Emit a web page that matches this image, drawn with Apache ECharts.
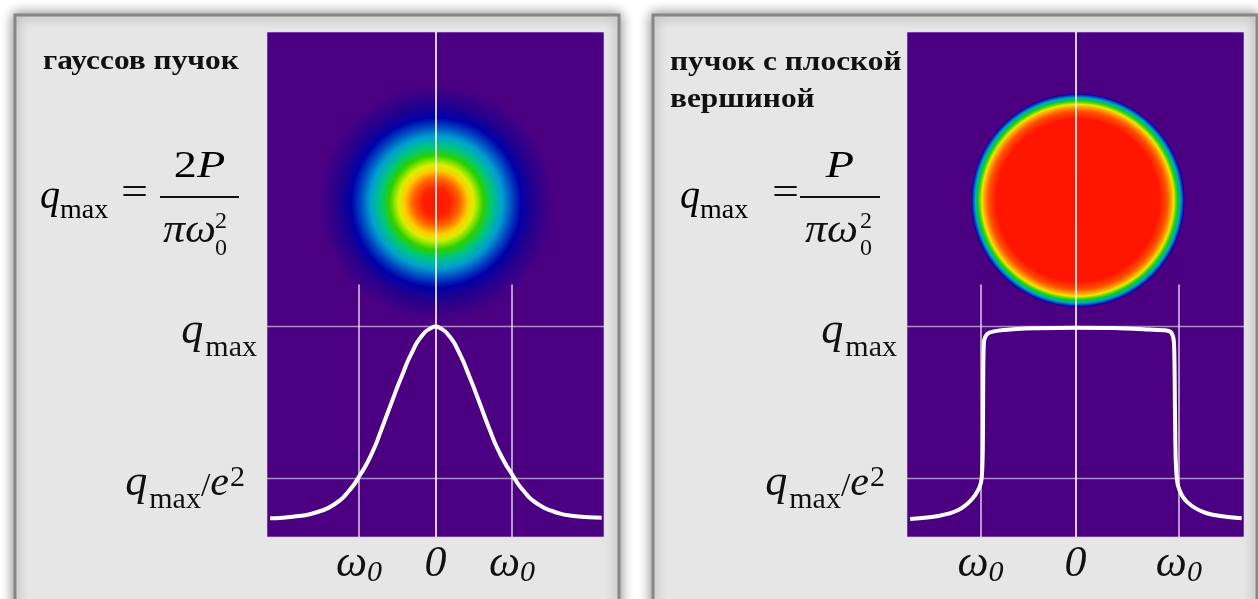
<!DOCTYPE html>
<html>
<head>
<meta charset="utf-8">
<script src="https://cdn.jsdelivr.net/npm/echarts@6/dist/echarts.min.js"></script>
<style>
  html, body { margin: 0; padding: 0; background: #ffffff; }
  #chart { width: 1258px; height: 599px; }
</style>
</head>
<body>
<div id="chart"></div>
<script>
// ---- Profile of a Gaussian beam (x in waist units, y relative to q_max) ----
const gaussX = [-2.16, -1.79, -1.53, -1.31, -1.14, -0.99, -0.83, -0.70, -0.57, -0.44, -0.31, -0.18, -0.05, 0,
                0.05, 0.18, 0.31, 0.44, 0.57, 0.70, 0.84, 1.01, 1.16, 1.33, 1.55, 1.80, 2.17];
const gaussY = [0.089, 0.100, 0.120, 0.158, 0.215, 0.292, 0.398, 0.517, 0.643, 0.765, 0.875, 0.955, 0.995, 1.0,
                0.995, 0.955, 0.875, 0.765, 0.643, 0.517, 0.398, 0.292, 0.215, 0.158, 0.120, 0.100, 0.092];

// ---- Profile of a flat-top beam ----
const flatX = [-2.16, -1.79, -1.53, -1.36, -1.26, -1.225, -1.21, -1.205, -1.195, -1.14, -0.92, -0.49, 0,
               0.50, 0.95, 1.19, 1.256, 1.286, 1.299, 1.312, 1.342, 1.452, 1.713, 2.17];
const flatY = [0.086, 0.100, 0.128, 0.176, 0.231, 0.279, 0.422, 0.738, 0.928, 0.968, 0.984, 0.992, 0.995,
               0.993, 0.986, 0.981, 0.968, 0.921, 0.589, 0.334, 0.239, 0.168, 0.113, 0.089];

// Beam radius marks (-ω0, 0, ω0) on each plot
const gaussWaist = [-1, 0, 1];
const flatWaist = [-1.24, 0, 1.35];

// Intensity levels: q_max and q_max / e^2
const levels = [1, 0.28];

// Beam spots: [centre x, centre y, outer radius]
const gaussSpot = [[0.01, 1.59, 1.54]];
const flatSpot = [[0.03, 1.60, 1.40]];

// Radial positions (fraction of the outer radius) of the colour rings
const gaussRings = [0, 0.12, 0.20, 0.27, 0.32, 0.40, 0.47, 0.56, 0.65, 0.72, 0.82, 1];
const flatRings = [0, 0.76, 0.83, 0.87, 0.895, 0.915, 0.935, 0.955, 0.975, 0.99, 1];

// Texts
const titleGauss = 'гауссов пучок';
const titleFlat = ['пучок с плоской', 'вершиной'];

// ---- Styles ----
const SERIF = '"Liberation Serif", "Times New Roman", serif';
const BG = '#4b0082';
const gaussPalette = ['#ff1400', '#ff2200', '#ff6400', '#ffcc00', '#d8f000', '#2cd000', '#00c878',
                      '#00a0d0', '#0040c0', '#0000a8', '#22008e', BG];
const flatPalette = ['#ff1400', '#ff1600', '#ff5000', '#ffa000', '#f0e800', '#60d800', '#00c840',
                     '#00b0b0', '#0050d0', '#1400a0', BG];

function spotSeries(data, rings, palette, axisIdx) {
  return {
    type: 'custom',
    xAxisIndex: axisIdx,
    yAxisIndex: axisIdx,
    z: 2,
    silent: true,
    data: data,
    renderItem: function (params, api) {
      const c = api.coord([api.value(0), api.value(1)]);
      const r = api.size([api.value(2), 0])[0];
      return {
        type: 'circle',
        shape: { cx: c[0], cy: c[1], r: r },
        style: {
          fill: {
            type: 'radial', x: 0.5, y: 0.5, r: 0.5,
            colorStops: rings.map(function (p, i) { return { offset: p, color: palette[i] }; })
          }
        }
      };
    }
  };
}

function guideSeries(waist, axisIdx) {
  const soft = { color: 'rgba(255,255,255,0.55)', width: 1.3, type: 'solid' };
  const mid = { color: 'rgba(255,255,255,0.8)', width: 1.5, type: 'solid' };
  const strong = { color: '#ffffff', width: 1.6, type: 'solid' };
  const data = [];
  waist.forEach(function (w) {
    if (w === 0) {
      data.push([{ coord: [0, 0], lineStyle: strong }, { coord: [0, 2.4] }]);
    } else {
      data.push([{ coord: [w, 0], lineStyle: mid }, { coord: [w, 1.2] }]);
    }
  });
  levels.forEach(function (l) { data.push({ yAxis: l, lineStyle: soft }); });
  return {
    type: 'line',
    xAxisIndex: axisIdx,
    yAxisIndex: axisIdx,
    z: 3,
    data: [],
    markLine: { silent: true, symbol: 'none', label: { show: false }, animation: false, data: data }
  };
}

function curveSeries(xs, ys, axisIdx, smooth) {
  return {
    type: 'line',
    xAxisIndex: axisIdx,
    yAxisIndex: axisIdx,
    z: 4,
    silent: true,
    showSymbol: false,
    symbol: 'none',
    smooth: smooth,
    lineStyle: { color: '#ffffff', width: 4 },
    data: xs.map(function (x, i) { return [x, ys[i]]; })
  };
}

const richMath = {
  q: { fontFamily: SERIF, fontStyle: 'italic', fontSize: 44, color: '#111', verticalAlign: 'bottom', padding: [0, 2, 10, 0] },
  m: { fontFamily: SERIF, fontSize: 30, color: '#111', verticalAlign: 'bottom' },
  sl: { fontFamily: SERIF, fontSize: 34, color: '#111', verticalAlign: 'bottom', padding: [0, 0, 11, 0] },
  e: { fontFamily: SERIF, fontStyle: 'italic', fontSize: 42, color: '#111', verticalAlign: 'bottom', padding: [0, 0, 10, 0] },
  sup: { fontFamily: SERIF, fontSize: 30, color: '#111', verticalAlign: 'bottom', padding: [0, 12, 22, 1] },
  w: { fontFamily: SERIF, fontStyle: 'italic', fontSize: 44, color: '#111', verticalAlign: 'bottom', padding: [0, 0, 2, 0] },
  s: { fontFamily: SERIF, fontStyle: 'italic', fontSize: 30, color: '#111', verticalAlign: 'bottom' },
  n: { fontFamily: SERIF, fontStyle: 'italic', fontSize: 44, color: '#111', verticalAlign: 'bottom', padding: [0, 0, 2, 0] }
};

function xAxisFor(waist, idx) {
  return {
    type: 'value', gridIndex: idx, min: -2.2, max: 2.2, z: 5,
    axisLine: { show: false }, axisTick: { show: false }, splitLine: { show: false },
    axisLabel: {
      customValues: waist,
      margin: 5,
      formatter: function (v) { return v === 0 ? '{n|0}' : '{w|ω}{s|0}'; },
      rich: richMath
    }
  };
}

function yAxisFor(idx) {
  return {
    type: 'value', gridIndex: idx, min: 0, max: 2.4, z: 5,
    axisLine: { show: false }, axisTick: { show: false }, splitLine: { show: false },
    axisLabel: {
      customValues: levels,
      margin: 10,
      padding: [20, 0, 0, 0],
      formatter: function (v) { return v === levels[0] ? '{q|q}{m|max}' : '{q|q}{m|max}{sl|/}{e|e}{sup|2}'; },
      rich: richMath
    }
  };
}

function panel(x) {
  return {
    type: 'rect', z: 0, silent: true,
    shape: { x: x, y: 15, width: 604, height: 700 },
    style: { fill: '#e6e6e6', stroke: '#878787', lineWidth: 3, shadowBlur: 12, shadowColor: 'rgba(0,0,0,0.45)' }
  };
}

function txt(x, y, text, font, align, sx) {
  return {
    type: 'text', z: 6, silent: true, x: x, y: y, scaleX: sx || 1,
    style: { text: text, font: font, fill: '#111', align: align || 'left', verticalAlign: 'top' }
  };
}

function richTxt(x, y, text, align, sx) {
  return {
    type: 'text', z: 6, silent: true, x: x, y: y, scaleX: sx || 1,
    style: { text: text, rich: richFormula, align: align || 'left', verticalAlign: 'top' }
  };
}

const richFormula = {
  q: { fontFamily: SERIF, fontStyle: 'italic', fontSize: 40, color: '#111', verticalAlign: 'bottom', padding: [0, 0, 7, 0] },
  m: { fontFamily: SERIF, fontSize: 28, color: '#111', verticalAlign: 'bottom' },
  d: { fontFamily: SERIF, fontSize: 37, color: '#111', verticalAlign: 'bottom' },
  v: { fontFamily: SERIF, fontStyle: 'italic', fontSize: 37, color: '#111', verticalAlign: 'bottom' }
};

function fraction(x0, xEq, x1, x2, numer, denomX, scriptX) {
  return [
    richTxt(x0, 177.5, '{q|q}{m|max}'),
    txt(xEq, 174.4, '=', '40px ' + SERIF, 'left', 1.2),
    { type: 'line', z: 6, silent: true, shape: { x1: x1, y1: 197, x2: x2, y2: 197 }, style: { stroke: '#111', lineWidth: 2 } },
    richTxt((x1 + x2) / 2, 149, numer, 'center', 1.25),
    txt(denomX, 211.5, 'πω', 'italic 40px ' + SERIF, 'left', 1.1),
    txt(scriptX, 209.9, '2', '24px ' + SERIF),
    txt(scriptX, 236.9, '0', '24px ' + SERIF)
  ];
}

const option = {
  animation: false,
  backgroundColor: '#ffffff',
  grid: [
    { left: 267, top: 32, width: 337, height: 505, show: true, backgroundColor: BG, borderColor: 'rgba(230,200,255,0.6)', borderWidth: 1, z: 1 },
    { left: 907, top: 32, width: 337, height: 505, show: true, backgroundColor: BG, borderColor: 'rgba(230,200,255,0.6)', borderWidth: 1, z: 1 }
  ],
  xAxis: [xAxisFor(gaussWaist, 0), xAxisFor(flatWaist, 1)],
  yAxis: [yAxisFor(0), yAxisFor(1)],
  graphic: [
    panel(15),
    panel(653),
    txt(43, 47.3, titleGauss, 'bold 28px ' + SERIF, 'left', 1.12),
    txt(670, 48.3, titleFlat[0], 'bold 28px ' + SERIF, 'left', 1.12),
    txt(670, 85.9, titleFlat[1], 'bold 28px ' + SERIF, 'left', 1.12)
  ].concat(
    fraction(40, 121, 160, 239, '{d|2}{v|P}', 163, 215),
    fraction(680, 772, 800, 880, '{v|P}', 805, 860)
  ),
  series: [
    spotSeries(gaussSpot, gaussRings, gaussPalette, 0),
    spotSeries(flatSpot, flatRings, flatPalette, 1),
    guideSeries(gaussWaist, 0),
    guideSeries(flatWaist, 1),
    curveSeries(gaussX, gaussY, 0, 0.6),
    curveSeries(flatX, flatY, 1, 0.3)
  ]
};

const chart = echarts.init(document.getElementById('chart'), null, { renderer: 'canvas' });
chart.setOption(option);
</script>
</body>
</html>
